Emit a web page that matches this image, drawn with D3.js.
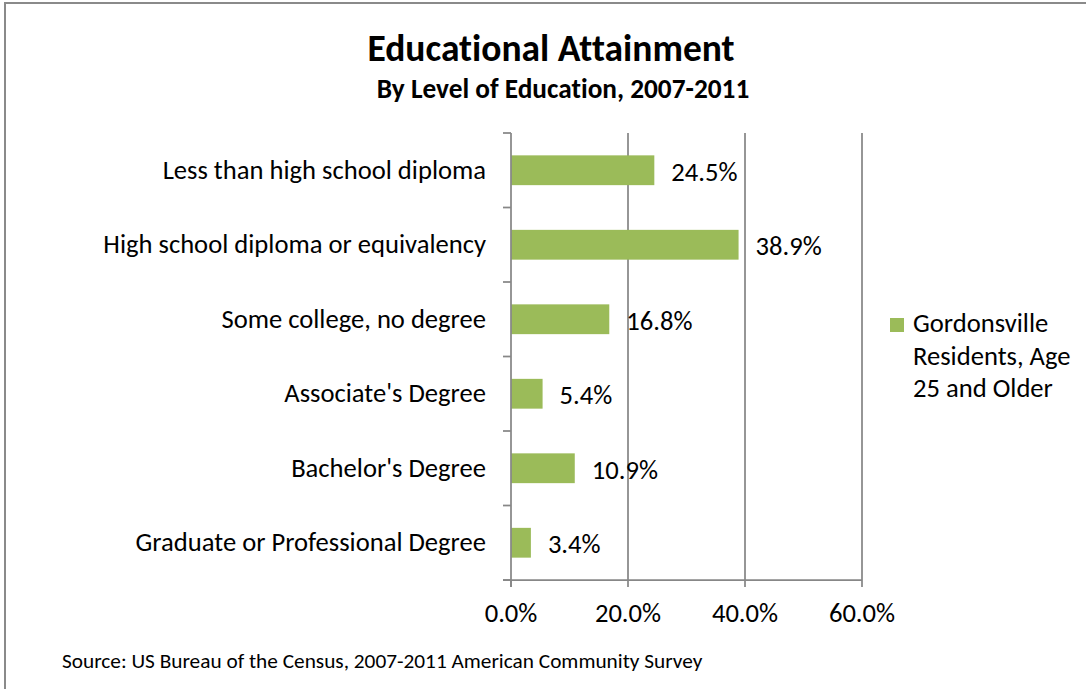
<!DOCTYPE html>
<html>
<head>
<meta charset="utf-8">
<script src="https://cdn.jsdelivr.net/npm/d3@7"></script>
<style>
  html, body { margin: 0; padding: 0; background: #fff; }
  svg { display: block; }
  text { font-family: Carlito, Calibri, "Open Sans", sans-serif; fill: #000; font-variant-ligatures: none; }
</style>
</head>
<body>
<svg id="chart" width="1086" height="689"></svg>
<script>
// Educational attainment, Gordonsville residents age 25 and older
const categories = [
  "Less than high school diploma",
  "High school diploma or equivalency",
  "Some college, no degree",
  "Associate's Degree",
  "Bachelor's Degree",
  "Graduate or Professional Degree"
];
const values = [24.5, 38.9, 16.8, 5.4, 10.9, 3.4];
const xTicks = [0, 20, 40, 60];
const seriesName = ["Gordonsville", "Residents, Age", "25 and Older"];
const titleText = "Educational Attainment";
const subtitleText = "By Level of Education, 2007-2011";
const sourceText = "Source: US Bureau of the Census, 2007-2011 American Community Survey";

const barColor = "#9BBB59";
const gridColor = "#878787";
const labelSize = 26.6;

const svg = d3.select("#chart");

// chart frame
svg.append("rect")
  .attr("x", 5).attr("y", 3)
  .attr("width", 1200).attr("height", 1200)
  .attr("fill", "#fff")
  .attr("stroke", "#8a8a8a").attr("stroke-width", 2);

// plot area
const plot = { left: 511, right: 862, top: 133, bottom: 580 };

const x = d3.scaleLinear().domain([0, 60]).range([plot.left, plot.right]);
const y = d3.scaleBand().domain(categories)
  .range([plot.top, plot.bottom])
  .paddingInner(0.6).paddingOuter(0.3);
const yCat = d3.scaleBand().domain(categories).range([plot.top, plot.bottom]).padding(0);

// vertical gridlines
svg.append("g").selectAll("line")
  .data(xTicks.filter(d => d > 0))
  .join("line")
  .attr("x1", d => x(d)).attr("x2", d => x(d))
  .attr("y1", plot.top).attr("y2", plot.bottom)
  .attr("stroke", gridColor).attr("stroke-width", 1.75);

// bars
svg.append("g").selectAll("rect")
  .data(values)
  .join("rect")
  .attr("x", x(0))
  .attr("y", (d, i) => y(categories[i]))
  .attr("width", d => x(d) - x(0))
  .attr("height", y.bandwidth())
  .attr("fill", barColor);

// value labels
svg.append("g").selectAll("text")
  .data(values)
  .join("text")
  .attr("x", d => x(d) + 17)
  .attr("y", (d, i) => y(categories[i]) + y.bandwidth() / 2 + 1)
  .attr("dy", "0.35em")
  .attr("font-size", labelSize)
  .text(d => d.toFixed(1) + "%");

// category axis
const yAxis = svg.append("g")
  .attr("transform", `translate(${plot.left},0)`);
yAxis.append("line")
  .attr("x1", 0).attr("x2", 0)
  .attr("y1", plot.top).attr("y2", plot.bottom + 7)
  .attr("stroke", gridColor).attr("stroke-width", 1.75);
const boundaries = categories.map(c => yCat(c)).concat([plot.bottom]);
yAxis.selectAll("line.tick")
  .data(boundaries)
  .join("line")
  .attr("class", "tick")
  .attr("x1", -8).attr("x2", 0)
  .attr("y1", d => d).attr("y2", d => d)
  .attr("stroke", gridColor).attr("stroke-width", 1.75);
yAxis.selectAll("text")
  .data(categories)
  .join("text")
  .attr("x", -25)
  .attr("y", d => yCat(d) + yCat.bandwidth() / 2 - 1)
  .attr("dy", "0.35em")
  .attr("text-anchor", "end")
  .attr("font-size", labelSize)
  .text(d => d);

// value axis
const xAxis = svg.append("g")
  .attr("transform", `translate(0,${plot.bottom})`);
xAxis.append("line")
  .attr("x1", plot.left - 8).attr("x2", plot.right)
  .attr("stroke", gridColor).attr("stroke-width", 1.75);
xAxis.selectAll("line.tick")
  .data(xTicks)
  .join("line")
  .attr("class", "tick")
  .attr("x1", d => x(d)).attr("x2", d => x(d))
  .attr("y1", 0).attr("y2", 7)
  .attr("stroke", gridColor).attr("stroke-width", 1.75);
xAxis.selectAll("text")
  .data(xTicks)
  .join("text")
  .attr("x", d => x(d))
  .attr("y", 42)
  .attr("text-anchor", "middle")
  .attr("font-size", labelSize)
  .text(d => d.toFixed(1) + "%");

// titles
svg.append("text")
  .attr("x", 551).attr("y", 61)
  .attr("text-anchor", "middle")
  .attr("font-size", 37.5).attr("font-weight", "bold")
  .text(titleText);
svg.append("text")
  .attr("x", 563).attr("y", 98)
  .attr("text-anchor", "middle")
  .attr("font-size", 27.3).attr("font-weight", "bold")
  .text(subtitleText);

// legend
const legend = svg.append("g").attr("transform", "translate(890,318)");
legend.append("rect")
  .attr("width", 14).attr("height", 14)
  .attr("fill", barColor);
legend.selectAll("text")
  .data(seriesName)
  .join("text")
  .attr("x", 23)
  .attr("y", (d, i) => 14 + i * 32.5)
  .attr("font-size", labelSize)
  .text(d => d);

// source note
svg.append("text")
  .attr("x", 62).attr("y", 668)
  .attr("font-size", 21.3)
  .text(sourceText);
</script>
</body>
</html>
